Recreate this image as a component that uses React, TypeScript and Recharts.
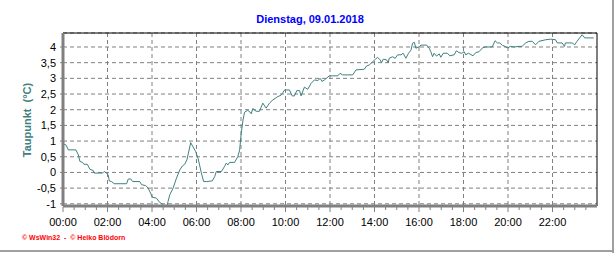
import { LineChart, Line, XAxis, YAxis, CartesianGrid, ReferenceLine } from 'recharts'

// Taupunkt, Dienstag 09.01.2018 – hours of day and dew point in °C
const HOURS = [
  0.0, 0.13, 0.24, 0.58, 0.69, 0.76, 0.88, 0.94, 1.09, 1.21, 1.36, 1.4, 1.78, 1.85, 1.96,
  2.03, 2.08, 2.18, 2.3, 2.86, 2.93, 3.05, 3.13, 3.45, 3.53, 3.72, 3.83,
  4.02, 4.2, 4.35, 4.47, 4.53, 4.68, 4.72, 4.8, 4.95, 5.1, 5.25, 5.37, 5.47, 5.57, 5.74, 5.84, 5.96,
  6.07, 6.22, 6.32, 6.44, 6.71, 6.82, 6.89, 7.12, 7.26, 7.34, 7.41, 7.49, 7.71, 7.86, 7.94,
  8.01, 8.09, 8.16, 8.3, 8.4, 8.46, 8.53, 8.68, 8.83, 8.98, 9.13, 9.28, 9.43, 9.61, 9.81, 9.96,
  10.18, 10.3, 10.4, 10.51, 10.63, 10.7, 10.85, 11.0, 11.15, 11.3, 11.45, 11.56, 11.64, 11.75, 11.97,
  12.35, 12.45, 12.57, 13.02, 13.17, 13.54, 13.64, 13.77, 13.92,
  14.04, 14.14, 14.25, 14.32, 14.39, 14.54, 14.62, 14.66, 14.81, 14.93, 15.04, 15.19, 15.29, 15.41,
  15.53, 15.64, 15.71, 15.79, 15.86, 16.01, 16.09, 16.34, 16.46, 16.53, 16.61, 16.68, 16.79, 16.91,
  16.98, 17.09, 17.28, 17.38, 17.58, 17.68, 17.8, 17.92, 18.03, 18.1, 18.22, 18.43, 18.55, 18.7,
  18.85, 18.97, 19.29, 19.42, 19.52, 19.63, 19.75, 19.87, 19.97, 20.12, 20.27, 20.49, 20.64, 20.79,
  20.94, 21.09, 21.24, 21.39, 21.69, 21.91, 22.14, 22.21, 22.43, 22.54, 22.58, 22.88, 23.0, 23.1,
  23.33, 23.45, 23.85,
]

const DEW_POINT = [
  0.91, 0.88, 0.72, 0.72, 0.56, 0.35, 0.32, 0.26, 0.26, 0.1, 0.06, -0.02, -0.02, 0.03, -0.02,
  -0.08, -0.27, -0.29, -0.36, -0.36, -0.21, -0.21, -0.29, -0.29, -0.39, -0.42, -0.5,
  -0.79, -0.82, -0.96, -1.01, -1.06, -1.06, -0.93, -0.71, -0.5, -0.18, 0.08, 0.21, 0.26, 0.4, 0.95, 0.82, 0.67,
  0.45, -0.02, -0.29, -0.29, -0.27, -0.13, 0.03, 0.03, 0.19, 0.3, 0.24, 0.32, 0.32, 0.51, 0.72,
  1.25, 1.67, 1.92, 1.98, 1.93, 1.87, 2.04, 1.95, 1.95, 2.21, 2.05, 2.21, 2.31, 2.4, 2.47, 2.63,
  2.63, 2.44, 2.44, 2.61, 2.61, 2.44, 2.72, 2.65, 2.84, 2.95, 2.93, 3.0, 2.9, 2.95, 3.08,
  3.08, 3.16, 3.11, 3.11, 3.27, 3.29, 3.39, 3.43, 3.53,
  3.61, 3.67, 3.59, 3.5, 3.61, 3.59, 3.5, 3.64, 3.69, 3.64, 3.75, 3.75, 3.8, 3.64,
  3.8, 3.9, 4.12, 4.15, 3.96, 4.01, 4.06, 4.06, 3.96, 3.85, 3.69, 3.8, 3.71, 3.78,
  3.67, 3.8, 3.8, 3.72, 3.75, 3.88, 3.82, 3.8, 3.85, 3.75, 3.8, 3.72, 3.82, 3.85,
  3.97, 4.0, 4.0, 4.2, 4.13, 4.13, 4.05, 4.02, 3.97, 4.02, 4.0, 4.02, 4.02, 4.13,
  4.18, 4.18, 4.07, 4.18, 4.23, 4.25, 4.23, 4.13, 4.13, 4.02, 4.13, 4.13, 4.07, 4.18,
  4.39, 4.29, 4.29,
]

const Y_TICKS = [-1, -0.5, 0, 0.5, 1, 1.5, 2, 2.5, 3, 3.5, 4]
const X_TICKS = [
  0, 0.5, 1, 1.5, 2, 2.5, 3, 3.5, 4, 4.5, 5, 5.5, 6, 6.5, 7, 7.5, 8, 8.5, 9, 9.5, 10, 10.5, 11, 11.5,
  12, 12.5, 13, 13.5, 14, 14.5, 15, 15.5, 16, 16.5, 17, 17.5, 18, 18.5, 19, 19.5, 20, 20.5, 21, 21.5,
  22, 22.5, 23, 23.5,
]
const MAJOR_HOURS = [0, 2, 4, 6, 8, 10, 12, 14, 16, 18, 20, 22]
const X_LABELS = ['00:00', '02:00', '04:00', '06:00', '08:00', '10:00', '12:00', '14:00', '16:00', '18:00', '20:00', '22:00']

const Y_MIN = -1.07
const Y_MAX = 4.446
const FONT = '"Liberation Sans", Arial, sans-serif'
const LINE_COLOR = '#408080'
const GRID_COLOR = '#808080'

const data = HOURS.map((h, i) => ({ h, v: DEW_POINT[i] }))

function HourTick(props: any) {
  const { x, y, payload } = props
  const h = payload.value
  const idx = MAJOR_HOURS.indexOf(h)
  return (
    <g>
      <line x1={x} x2={x} y1={y + 1} y2={y + (idx >= 0 ? 6 : 4)} stroke={GRID_COLOR} />
      {idx >= 0 && (
        <text x={x} y={y + 20} textAnchor="middle" fontSize={11} fill="#000" fontFamily={FONT}>
          {X_LABELS[idx]}
        </text>
      )}
    </g>
  )
}

export default function App() {
  return (
    <div style={{ position: 'relative', width: 616, height: 253, background: '#fff', fontFamily: FONT }}>
      <style>{'body{margin:0}'}</style>
      <div
        style={{
          position: 'absolute',
          left: 0,
          top: 12,
          width: 620,
          textAlign: 'center',
          fontSize: 11,
          fontWeight: 'bold',
          color: '#0000ff',
          lineHeight: '14px',
        }}
      >
        Dienstag, 09.01.2018
      </div>
      <div
        style={{
          position: 'absolute',
          left: 27 - 60,
          top: 120 - 7,
          width: 120,
          height: 14,
          lineHeight: '14px',
          textAlign: 'center',
          transform: 'rotate(-90deg)',
          fontSize: 11,
          fontWeight: 'bold',
          color: LINE_COLOR,
          whiteSpace: 'pre',
        }}
      >
        {'Taupunkt  (°C)'}
      </div>
      <LineChart width={616} height={253} data={data} margin={{ top: 33, right: 19, left: 23, bottom: 17 }}>
        <CartesianGrid
          stroke={GRID_COLOR}
          strokeDasharray="4 3"
          verticalCoordinatesGenerator={({ offset }: any) =>
            MAJOR_HOURS.slice(1).map((h) => offset.left + (h / 24) * offset.width)
          }
        />
        <XAxis
          dataKey="h"
          type="number"
          domain={[0, 24]}
          ticks={X_TICKS}
          interval={0}
          allowDataOverflow
          height={30}
          tickSize={0}
          tickMargin={0}
          tickLine={false}
          axisLine={{ stroke: GRID_COLOR, strokeWidth: 3 }}
          tick={(p: any) => <HourTick {...p} />}
        />
        <YAxis
          type="number"
          domain={[Y_MIN, Y_MAX]}
          ticks={Y_TICKS}
          interval={0}
          allowDataOverflow
          width={40}
          tickSize={3}
          tickMargin={4}
          tickLine={{ stroke: GRID_COLOR }}
          axisLine={{ stroke: GRID_COLOR, strokeWidth: 3 }}
          tick={{ fontSize: 11, fill: '#000', fontFamily: FONT }}
          tickFormatter={(v: number) => String(v).replace('.', ',')}
        />
        <ReferenceLine y={Y_MAX} stroke="#000" />
        <ReferenceLine x={24} stroke="#000" />
        <Line
          type="linear"
          dataKey="v"
          stroke={LINE_COLOR}
          strokeWidth={1}
          dot={false}
          isAnimationActive={false}
        />
      </LineChart>
      <div
        style={{
          position: 'absolute',
          left: 22,
          top: 234,
          fontSize: 7,
          fontWeight: 'bold',
          color: '#ff0000',
          whiteSpace: 'pre',
          lineHeight: '8px',
        }}
      >
        {'© WsWin32  -  © Heiko Blödorn'}
      </div>
      <div style={{ position: 'absolute', left: 612, top: 0, width: 2, height: 253, background: '#a0a0a0' }} />
      <div style={{ position: 'absolute', left: 0, top: 250, width: 614, height: 2, background: '#a0a0a0' }} />
    </div>
  )
}
